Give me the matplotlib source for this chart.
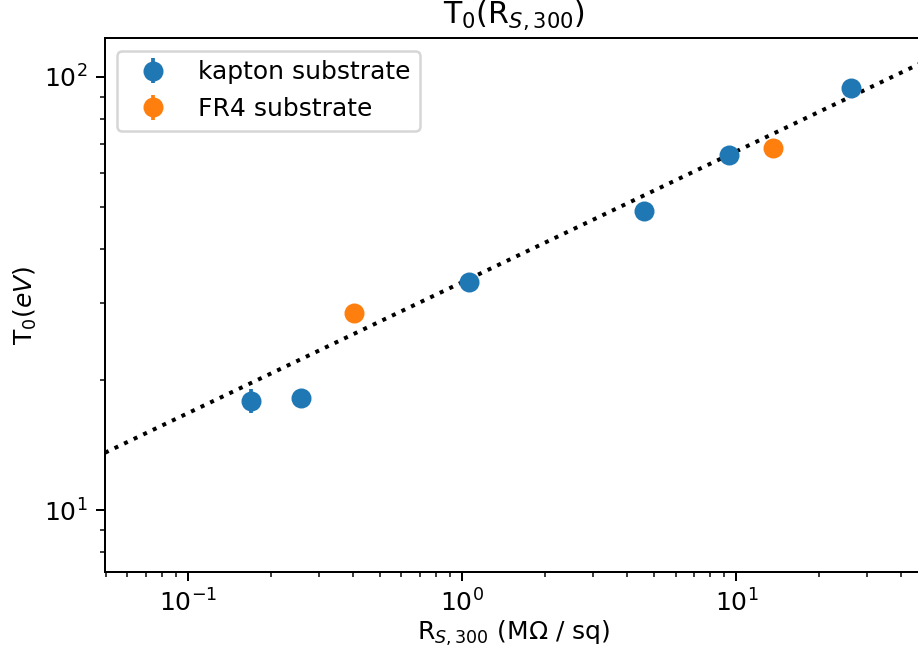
import matplotlib
matplotlib.use("Agg")
import matplotlib.pyplot as plt
import numpy as np

# kapton substrate
R_kapton = [0.170, 0.257, 1.06, 4.59, 9.39, 26.3]
T_kapton = [17.9, 18.2, 33.6, 49.0, 66.1, 94.4]
err_kapton = [1.1, 0.4, 0.6, 0.7, 0.8, 1.0]

# FR4 substrate
R_fr4 = [0.401, 13.6]
T_fr4 = [28.5, 68.6]
err_fr4 = [0.4, 0.6]

# power law fit T0 = A * R^b
fit_A = 33.6
fit_b = 0.302

DPI = 180
fig = plt.figure(figsize=(919 / DPI, 653 / DPI), dpi=DPI)
ax = fig.add_axes([105 / 919, 81 / 653, 818 / 919, 534 / 653])

ax.errorbar(R_kapton, T_kapton, yerr=err_kapton, fmt='o', markersize=7, label='kapton substrate')
ax.errorbar(R_fr4, T_fr4, yerr=err_fr4, fmt='o', markersize=7, label='FR4 substrate')

x_fit = np.logspace(np.log10(0.0497), np.log10(48), 100)
ax.plot(x_fit, fit_A * x_fit ** fit_b, 'k:', linewidth=1.6)

ax.set_xscale('log')
ax.set_yscale('log')
ax.set_xlim(0.0497, 48)
ax.set_ylim(7.2, 123)
ax.set_title('T$_0$(R$_{S,300}$)')
ax.set_xlabel('R$_{S,300}$ (M\u03a9 / sq)', labelpad=1)
ax.set_ylabel('T$_0$($eV$)', labelpad=2)
ax.legend(loc='upper left')

fig.savefig('out.png', dpi=DPI)
